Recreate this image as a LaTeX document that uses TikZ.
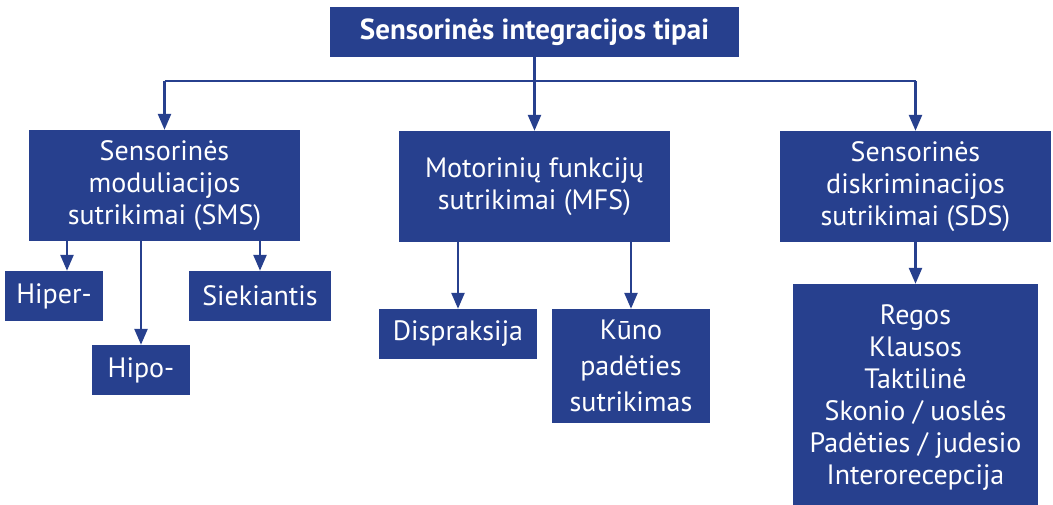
\documentclass[tikz,border=0pt]{standalone}
\usepackage{fontspec}
\setmainfont{PT Sans}
\usetikzlibrary{arrows.meta,calc}
\definecolor{sblue}{RGB}{39,64,142}
\tikzset{
  box/.style={fill=sblue, text=white, inner sep=0pt, align=center, font=\fontsize{28}{32}\selectfont},
  arr/.style={draw=sblue, line width=2.5pt, -{Triangle[width=13pt,length=16pt]}},
  ln/.style={draw=sblue, line width=2.5pt}
}
\begin{document}
\begin{tikzpicture}[x=1pt,y=-1pt]
\useasboundingbox (0,0) rectangle (1053,504);
\clip (0,0) rectangle (1053,504);
\node[box, minimum width=409pt, minimum height=50pt, font=\bfseries\fontsize{29}{32}\selectfont] (top) at (534.5,32) {Sensorinės integracijos tipai};
\node[box, minimum width=271pt, minimum height=111pt] (sms) at (164.5,185.5) {Sensorinės\\moduliacijos\\sutrikimai (SMS)};
\node[box, minimum width=271pt, minimum height=111pt] (mfs) at (534.5,186.5) {Motorinių funkcijų\\sutrikimai (MFS)};
\node[box, minimum width=271pt, minimum height=111pt] (sds) at (915.5,186.5) {Sensorinės\\diskriminacijos\\sutrikimai (SDS)};
\node[box, minimum width=98pt, minimum height=50pt] (hiper) at (54,296) {Hiper-};
\node[box, minimum width=142pt, minimum height=50pt] (sie) at (260,296) {Siekiantis};
\node[box, minimum width=98pt, minimum height=50pt] (hipo) at (141,370) {Hipo-};
\node[box, minimum width=158pt, minimum height=50pt] (disp) at (458,334) {Dispraksija};
\node[box, minimum width=158pt, minimum height=114pt, font=\fontsize{28}{36}\selectfont] (kuno) at (631,366) {Kūno\\padėties\\sutrikimas};
\node[box, minimum width=245pt, minimum height=228pt] (list) at (915.5,398) {Regos\\Klausos\\Taktilinė\\Skonio / uoslės\\Padėties / judesio\\Interorecepcija};
% top connectors
\coordinate (j) at ($(top.south)+(0,24)$);
\draw[arr] (top.south) -- (mfs.north);
\draw[ln] (sms.north |- j) -- (sds.north |- j);
\draw[arr] (sms.north |- j) -- (sms.north);
\draw[arr] (sds.north |- j) -- (sds.north);
% SMS children
\coordinate (hx) at (67,0);
\draw[arr] (sms.south -| hx) -- (hiper.north -| hx);
\draw[arr] (sms.south -| hipo.north) -- (hipo.north);
\draw[arr] (sms.south -| sie.north) -- (sie.north);
% MFS children
\draw[arr] (mfs.south -| disp.north) -- (disp.north);
\draw[arr] (mfs.south -| kuno.north) -- (kuno.north);
% SDS child
\draw[arr] (sds.south -| list.north) -- (list.north);
\end{tikzpicture}
\end{document}
